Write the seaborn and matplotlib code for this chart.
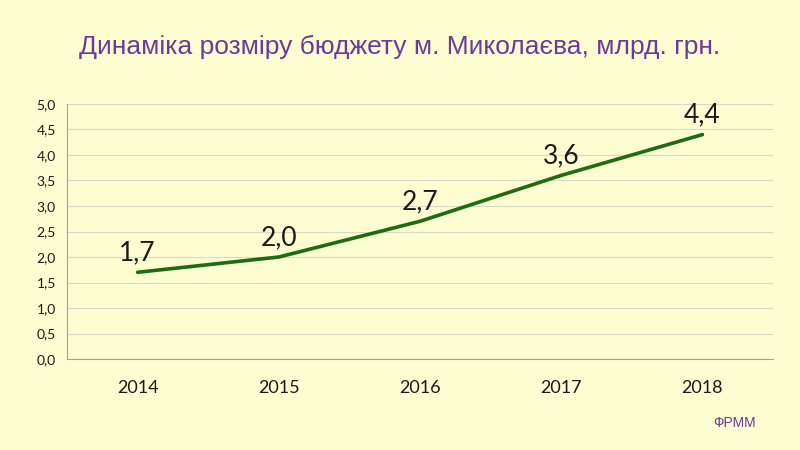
import matplotlib
matplotlib.use("Agg")
import matplotlib.pyplot as plt
import seaborn as sns
import pandas as pd
from matplotlib.ticker import MultipleLocator, FuncFormatter

years = ["2014", "2015", "2016", "2017", "2018"]
budget = [1.7, 2.0, 2.7, 3.6, 4.4]
labels = ["1,7", "2,0", "2,7", "3,6", "4,4"]
title = "Динаміка розміру бюджету м. Миколаєва, млрд. грн."
source = "ФРММ"

bg = "#FEFDD2"
sns.set_theme(style="white")
plt.rcParams["font.family"] = ["Lato", "DejaVu Sans"]

fig = plt.figure(figsize=(8, 4.5), dpi=100, facecolor=bg)
ax = fig.add_axes([0.08375, 0.2022, 0.8825, 0.5667])
ax.set_facecolor(bg)

df = pd.DataFrame({"year": years, "value": budget})
df["pos"] = range(len(years))
sns.lineplot(data=df, x="pos", y="value", ax=ax, color="#1E6B12", linewidth=2.6)

for x, y, t in zip(df["pos"], df["value"], labels):
    ax.annotate(t, (x, y), xytext=(0, 8.5), textcoords="offset points",
                ha="center", va="baseline", fontsize=19, color="#1a1a1a")

ax.set_xlim(-0.5, len(years) - 0.5)
ax.set_ylim(0, 5)
ax.yaxis.set_major_locator(MultipleLocator(0.5))
ax.yaxis.set_major_formatter(FuncFormatter(lambda v, p: f"{v:.1f}".replace(".", ",")))
ax.set_xticks([i - 0.5 for i in range(len(years) + 1)], minor=False)
ax.set_xticklabels([""] * (len(years) + 1))
ax.set_xticks(list(df["pos"]), minor=True)
ax.set_xticklabels(years, minor=True)
ax.tick_params(axis="x", which="minor", length=0, pad=15, labelsize=13, labelcolor="#1a1a1a")
ax.tick_params(axis="x", which="major", length=5, width=0.8, color="#A0A0A0", direction="out")
ax.tick_params(axis="y", length=5, width=0.8, color="#A0A0A0", direction="out", labelsize=10, labelcolor="#1a1a1a", pad=3)
ax.grid(axis="y", color="#D9D9C8", linewidth=0.8)
ax.set_axisbelow(True)
for s in ["top", "right"]:
    ax.spines[s].set_visible(False)
for s in ["left", "bottom"]:
    ax.spines[s].set_color("#A0A0A0")
    ax.spines[s].set_linewidth(0.8)
ax.set_xlabel("")
ax.set_ylabel("")

fig.text(0.5, 0.895, title, ha="center", va="center", fontsize=19, color="#6B3A9A",
         family=["Liberation Sans", "DejaVu Sans"])
fig.text(0.918, 0.06, source, ha="center", va="center", fontsize=10, color="#6B3A9A",
         family=["Liberation Sans", "DejaVu Sans"])

fig.savefig("out.png", dpi=100, facecolor=bg)
